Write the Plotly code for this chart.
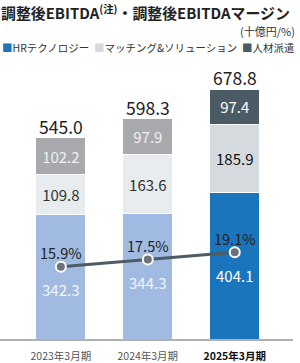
import plotly.graph_objects as go

categories = ["2023年3月期", "2024年3月期", "2025年3月期"]
hr_tech = [342.3, 344.3, 404.1]
matching = [109.8, 163.6, 185.9]
staffing = [102.2, 97.9, 97.4]
totals = [545.0, 598.3, 678.8]
margin_pct = [15.9, 17.5, 19.1]

hr_colors = ["#a1bae1", "#a1bae1", "#1b75bc"]
match_colors = ["#e8ecee", "#e8ecee", "#d4dade"]
staff_colors = ["#a8a9ad", "#a8a9ad", "#4a5b66"]
hr_text_colors = ["#f2f5fb", "#f2f5fb", "#ffffff"]
match_text_colors = ["#333333", "#333333", "#111111"]
staff_text_colors = ["#f0f0f0", "#f0f0f0", "#ffffff"]

FONT = "Noto Sans CJK JP"
W, H = 300, 363
T, B, L, R = 70, 24, 0, 7
plot_h = H - T - B

x = list(range(len(categories)))
bar_w = 0.575

fig = go.Figure()
fig.add_trace(go.Bar(x=x, y=hr_tech, width=bar_w, marker=dict(color=hr_colors, line=dict(color="white", width=1)),
                     name="HRテクノロジー", hoverinfo="skip"))
fig.add_trace(go.Bar(x=x, y=matching, width=bar_w, marker=dict(color=match_colors, line=dict(color="white", width=1)),
                     text=[f"{v:.1f}" for v in matching], textposition="inside", insidetextanchor="middle",
                     textfont=dict(color=match_text_colors, size=15, family=FONT), textangle=0,
                     name="マッチング&ソリューション", hoverinfo="skip"))
fig.add_trace(go.Bar(x=x, y=staffing, width=bar_w, marker=dict(color=staff_colors, line=dict(color="white", width=1)),
                     text=[f"{v:.1f}" for v in staffing], textposition="inside", insidetextanchor="middle",
                     textfont=dict(color=staff_text_colors, size=15, family=FONT), textangle=0,
                     name="人材派遣", hoverinfo="skip"))
fig.add_trace(go.Scatter(x=x, y=margin_pct, yaxis="y2", mode="lines+markers",
                         line=dict(color="#4d5b63", width=3),
                         marker=dict(size=10, color="#6b7377", line=dict(color="white", width=2)),
                         name="調整後EBITDAマージン", hoverinfo="skip"))

ann = []
for i in x:
    ann.append(dict(x=i, y=totals[i], xref="x", yref="y", text=f"{totals[i]:.1f}", showarrow=False,
                    yanchor="bottom", font=dict(size=17.5, color="#222222", family=FONT)))
    ann.append(dict(x=i, y=margin_pct[i], xref="x", yref="y2", text=f"{margin_pct[i]:.1f}%", showarrow=False,
                    yanchor="middle", yshift=14, font=dict(size=14.5, color="#222222", family=FONT)))
    ann.append(dict(x=i, y=margin_pct[i], xref="x", yref="y2", text=f"{hr_tech[i]:.1f}", showarrow=False,
                    yanchor="middle", yshift=-23, font=dict(size=15, color=hr_text_colors[i], family=FONT)))

def py(p):
    return 1 + (T - p) / plot_h

ann.append(dict(x=0, y=py(12), xref="paper", yref="paper", xanchor="left", yanchor="middle", showarrow=False,
                xshift=-1, text="<b>調整後EBITDA<sup>(注)</sup>・調整後EBITDAマージン</b>",
                font=dict(size=14.9, color="#222222", family=FONT)))
ann.append(dict(x=1, y=py(31), xref="paper", yref="paper", xanchor="right", yanchor="middle", showarrow=False,
                xshift=4, text="(十億円/%)", font=dict(size=11, color="#333333", family=FONT)))
legend_text = ("<span style='color:#1b75bc'>■</span>HRテクノロジー  "
               "<span style='color:#d4dade'>■</span>マッチング&ソリューション  "
               "<span style='color:#4a5b66'>■</span>人材派遣")
ann.append(dict(x=0, y=py(48), xref="paper", yref="paper", xanchor="left", yanchor="middle", showarrow=False,
                text=legend_text, font=dict(size=10.5, color="#333333", family=FONT)))

ticktext = [f"<span style='color:#555555'>{c}</span>" for c in categories[:-1]] + [f"<b>{categories[-1]}</b>"]

fig.update_layout(
    width=W, height=H, margin=dict(l=L, r=R, t=T, b=B),
    barmode="stack", showlegend=False,
    paper_bgcolor="white", plot_bgcolor="white",
    font=dict(family=FONT, color="#222222"),
    annotations=ann,
    xaxis=dict(range=[-0.70, 2.67], tickvals=x, ticktext=ticktext, showgrid=False, zeroline=False,
               showline=True, linecolor="#b0b0b0", linewidth=1.5, ticks="",
               tickfont=dict(size=10.5, color="#111111", family=FONT), ticklabelstandoff=7, fixedrange=True),
    yaxis=dict(range=[0, plot_h / 0.3635], visible=False, fixedrange=True),
    yaxis2=dict(range=[0, plot_h / 4.54], overlaying="y", visible=False, fixedrange=True),
)

fig.write_html("out.html")
